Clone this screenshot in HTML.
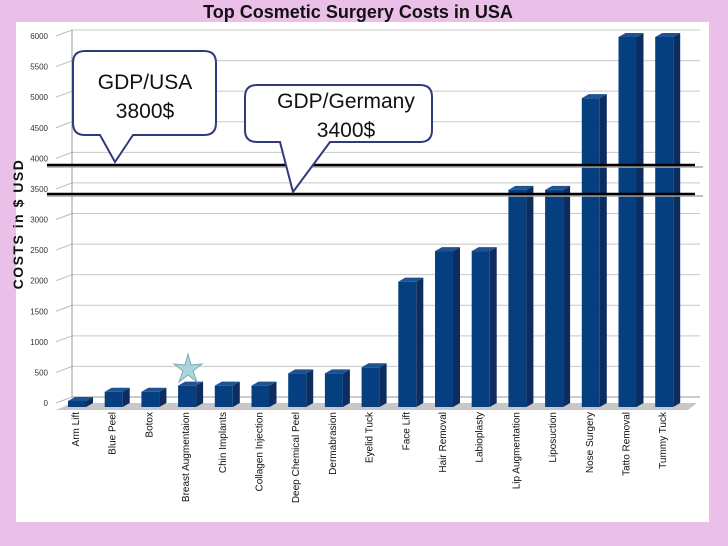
<!DOCTYPE html>
<html><head><meta charset="utf-8"><style>
body{margin:0;background:#ebc0e8;}
svg{display:block;font-family:"Liberation Sans",sans-serif;}
</style></head><body>
<svg id="c" width="728" height="546" viewBox="0 0 728 546">
<rect x="0" y="0" width="728" height="546" fill="#ebc0e8"/>
<rect x="16" y="22" width="693" height="500" fill="#fff"/>
<text x="358" y="18" text-anchor="middle" font-size="18" font-weight="bold" fill="#111">Top Cosmetic Surgery Costs in USA</text>
<text transform="translate(23,224) rotate(-90)" text-anchor="middle" font-size="14" font-weight="bold" letter-spacing="1.5" fill="#111">COSTS in  $ USD</text>
<g id="grid"></g>
<g id="bars"></g>
<g id="labels"></g>
<line x1="47" y1="167" x2="703" y2="167" stroke="#aaa" stroke-width="1.5"/>
<line x1="47" y1="165" x2="695" y2="165" stroke="#000" stroke-width="2.5"/>
<line x1="47" y1="196" x2="703" y2="196" stroke="#aaa" stroke-width="1.5"/>
<line x1="47" y1="194" x2="695" y2="194" stroke="#000" stroke-width="2.5"/>
<g>
<path d="M85,51 H204 Q216,51 216,63 V123 Q216,135 204,135 H133 L115,162 L100,135 H85 Q73,135 73,123 V63 Q73,51 85,51 Z" fill="#fff" stroke="#333a7a" stroke-width="2"/>
<text x="145" y="89" text-anchor="middle" font-size="21" fill="#111">GDP/USA</text>
<text x="145" y="118" text-anchor="middle" font-size="21" fill="#111">3800$</text>
</g>
<g>
<path d="M257,85 H420 Q432,85 432,97 V130 Q432,142 420,142 H330 L293,192 L280,142 H257 Q245,142 245,130 V97 Q245,85 257,85 Z" fill="#fff" stroke="#333a7a" stroke-width="2"/>
<text x="346" y="108" text-anchor="middle" font-size="21" fill="#111">GDP/Germany</text>
<text x="346" y="137" text-anchor="middle" font-size="21" fill="#111">3400$</text>
</g>
<polygon points="188,354 191,365 202,364 193,371 197,382 188,375 179,382 183,371 174,364 185,365" fill="#a9d6dc" stroke="#7fa9b0" stroke-width="1"/>
</svg>
<script>
const categories=["Arm Lift","Blue Peel","Botox","Breast Augmentaion","Chin Implants","Collagen Injection","Deep Chemical Peel","Dermabrasion","Eyelid Tuck","Face Lift","Hair Removal","Labioplasty","Lip Augmentation","Liposuction","Nose Surgery","Tatto Removal","Tummy Tuck"];
const costs=[50,200,200,300,300,300,500,500,600,2000,2500,2500,3500,3500,5000,6000,6000];
const yTicks=[0,500,1000,1500,2000,2500,3000,3500,4000,4500,5000,5500,6000];
const NS="http://www.w3.org/2000/svg";
function y(v){return 403-v*(367/6000);}
function x(i){return 75+i*36.7;}
function mk(tag,attrs,parent){const e=document.createElementNS(NS,tag);for(const k in attrs)e.setAttribute(k,attrs[k]);parent.appendChild(e);return e;}
const grid=document.getElementById('grid');
yTicks.forEach(t=>{
  const yy=y(t);
  const g=mk('line',{x1:72,y1:yy-6,x2:700,y2:yy-6,stroke:t===0?'#999':'#c8c8c8','stroke-width':1},grid);
  
  
  const s=mk('line',{x1:56,y1:yy,x2:72,y2:yy-6,stroke:'#bbb','stroke-width':1},grid);
  
  
  const l=mk('text',{x:48,y:yy+3,'text-anchor':'end','font-size':8,fill:'#333'},grid);
  l.textContent=t;
  
  
});
mk('line',{x1:72,y1:y(6000)-6,x2:72,y2:397,stroke:'#999'},grid);
const floor=mk('polygon',{points:'56,410 688,410 697,403 72,403',fill:'#c8c8c8'},grid);


const bars=document.getElementById('bars'),labels=document.getElementById('labels');
costs.forEach((v,i)=>{
  const cx=x(i),l=cx-7,w=18,d=7,top=y(v)+1,bot=407;
  const g=mk('g',{},bars);
  
  
  mk('polygon',{points:`${l+w},${top} ${l+w+d},${top-4} ${l+w+d},${bot-4} ${l+w},${bot}`,fill:'#0d2d5e'},g);
  mk('polygon',{points:`${l},${top} ${l+d},${top-4} ${l+w+d},${top-4} ${l+w},${top}`,fill:'#1d5394'},g);
  mk('rect',{x:l,y:top,width:w,height:bot-top,fill:'#053f80'},g);
  const t=mk('text',{transform:`translate(${cx+4},412) rotate(-90)`,'text-anchor':'end','font-size':10,fill:'#111'},labels);
  t.textContent=categories[i];
  
  
});
</script>
</body></html>
